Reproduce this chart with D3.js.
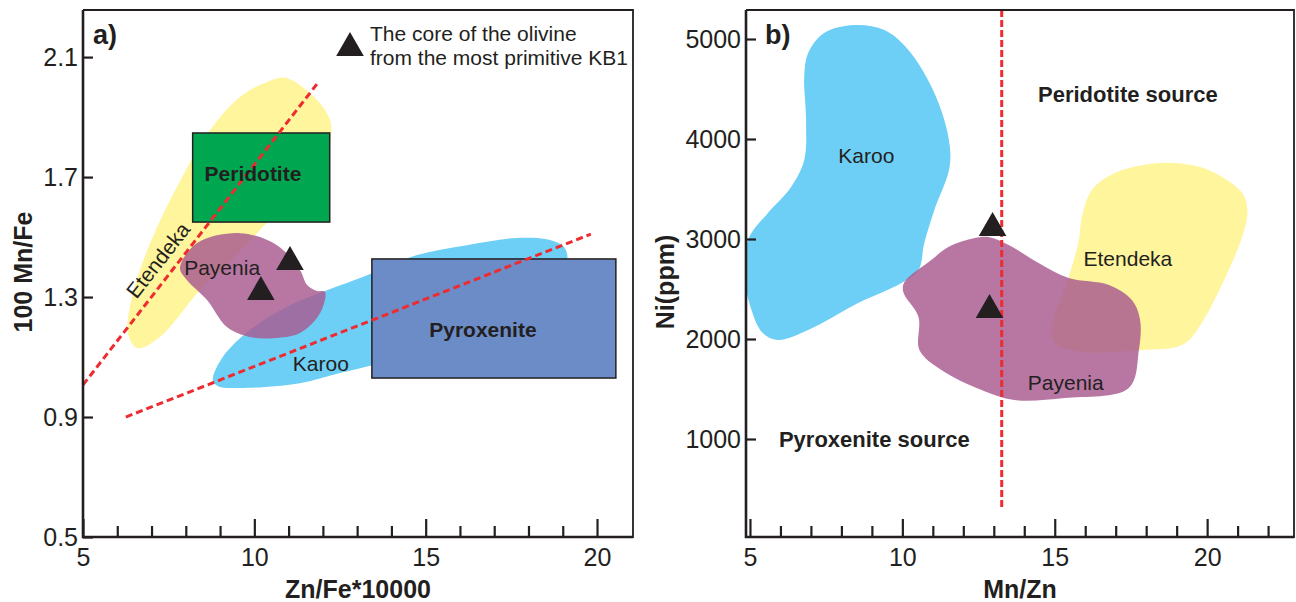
<!DOCTYPE html>
<html><head><meta charset="utf-8">
<script src="https://cdn.jsdelivr.net/npm/d3@7"></script>
<style>
body{margin:0;background:#fff;}
text{font-family:"Liberation Sans", Arial, Helvetica, sans-serif; fill:#231F20;}
</style>
</head><body>
<svg id="c" width="1296" height="602"></svg>
<script>
// ---------- Panel a data (Zn/Fe*10000 vs 100 Mn/Fe) ----------
const aXTicks = [5, 10, 15, 20];
const aXMinor = [6, 7, 8, 9, 11, 12, 13, 14, 16, 17, 18, 19];
const aYTicks = [0.5, 0.9, 1.3, 1.7, 2.1];
const aEtendeka = [[10.95,2.03],[12.21,1.89],[11.86,1.72],[10.22,1.53],[9.29,1.417],[8.41,1.323],[7.25,1.167],[6.58,1.13],[6.31,1.18],[6.46,1.313],[6.96,1.48],[7.74,1.667],[8.71,1.857],[9.58,1.967],[10.37,2.017]];
const aKaroo = [[8.79,1.023],[9.06,1.097],[9.87,1.19],[11.04,1.273],[12.12,1.323],[13.29,1.373],[14.75,1.44],[16.2,1.473],[17.66,1.497],[18.63,1.49],[19.06,1.463],[19.12,1.417],[18.34,1.29],[15.71,1.157],[13.43,1.073],[12.5,1.047],[11.33,1.013],[9.58,0.997],[8.94,1.003]];
const aPayenia = [[7.83,1.397],[8.33,1.48],[9.58,1.513],[10.66,1.473],[11.33,1.39],[11.54,1.34],[11.83,1.32],[12.06,1.317],[11.92,1.247],[11.33,1.18],[10.54,1.163],[9.87,1.167],[9.2,1.2],[8.62,1.29],[8.03,1.357]];
const aPeridotite = {x0: 8.2, x1: 12.2, y0: 1.55, y1: 1.847};
const aPyroxenite = {x0: 13.43, x1: 20.55, y0: 1.03, y1: 1.427};
const aLines = [[[5, 1.007],[11.86, 2.015]], [[6.25, 0.9],[19.82, 1.51]]];
const aTriangles = [[11.04, 1.417],[10.19, 1.317]];

// ---------- Panel b data (Mn/Zn vs Ni ppm) ----------
const bXTicks = [5, 10, 15, 20];
const bXMinor = [6, 7, 8, 9, 11, 12, 13, 14, 16, 17, 18, 19, 21, 22];
const bYTicks = [1000, 2000, 3000, 4000, 5000];
const bKaroo = [[8.42,5140],[7.43,5060],[6.91,4860],[6.78,4620],[6.84,4190],[6.78,3790],[6.35,3520],[5.59,3260],[4.98,3020],[4.8,2690],[5.05,2290],[5.42,2060],[5.92,1990],[6.91,2090],[8.55,2360],[9.97,2560],[10.53,2690],[10.72,2960],[11.05,3290],[11.55,3720],[11.51,4020],[11.05,4460],[10.2,4890],[9.41,5090]];
const bPayenia = [[12.37,3010],[11.51,2920],[10.95,2790],[10.07,2570],[10.03,2470],[10.53,2220],[10.56,1890],[11.28,1690],[12.6,1490],[13.68,1390],[15.33,1410],[17.43,1510],[17.76,1890],[17.8,2190],[17.53,2390],[16.78,2540],[15.46,2610],[14.47,2760],[13.49,2940],[12.83,3020]];
const bEtendeka = [[18.42,3760],[16.97,3660],[16.22,3490],[15.89,3220],[15.79,2990],[15.46,2620],[14.9,2120],[15.0,1960],[15.89,1870],[17.86,1890],[19.18,1940],[19.74,2120],[21.15,3020],[21.32,3290],[21.15,3460],[20.26,3660],[19.5,3740]];
const bLine = [[13.26, 5290],[13.26, 320]];
const bTriangles = [[12.96, 3110],[12.86, 2290]];

// ---------- styles ----------
const C = {yellow:"#FFF59D", green:"#00A650", pyro:"#6C8CC7", karoo:"#6DCFF6", pay:"#A8598F", red:"#EE2B30", ink:"#231F20"};

const svg = d3.select("#c");

function panel(cfg){
  const g = svg.append("g");
  const x = d3.scaleLinear().domain(cfg.xd).range([cfg.L, cfg.R]);
  const y = d3.scaleLinear().domain(cfg.yd).range([cfg.B, cfg.T]);
  const cid = "clip" + cfg.id;
  svg.append("defs").append("clipPath").attr("id", cid)
    .append("rect").attr("x", cfg.L).attr("y", cfg.T).attr("width", cfg.R - cfg.L).attr("height", cfg.B - cfg.T);
  const plot = g.append("g").attr("clip-path", `url(#${cid})`);
  return {g, x, y, plot};
}

const blob = (x, y) => d3.line().x(d => x(d[0])).y(d => y(d[1])).curve(d3.curveCatmullRomClosed.alpha(0.5));
const tri = d3.symbol(d3.symbolTriangle, 330);

function axes(p, cfg, xt, xm, yt, fmt){
  const {g, x, y} = p;
  g.append("g").attr("transform", `translate(0,${cfg.B})`)
    .call(d3.axisBottom(x).tickValues(xt).tickSizeInner(-18).tickSizeOuter(0).tickPadding(11))
    .call(s => { s.select(".domain").remove(); s.selectAll("line").attr("stroke", C.ink).attr("stroke-width", 2.2);
                 s.selectAll("text").attr("font-size", 25).attr("fill", C.ink).attr("font-family", null); });
  g.append("g").attr("transform", `translate(0,${cfg.B})`)
    .call(d3.axisBottom(x).tickValues(xm).tickSizeInner(-11).tickSizeOuter(0).tickFormat(""))
    .call(s => { s.select(".domain").remove(); s.selectAll("line").attr("stroke", C.ink).attr("stroke-width", 2.2); });
  g.append("g").attr("transform", `translate(${cfg.L},0)`)
    .call(d3.axisLeft(y).tickValues(yt).tickSizeInner(-10).tickSizeOuter(0).tickPadding(5).tickFormat(fmt))
    .call(s => { s.select(".domain").remove(); s.selectAll("line").attr("stroke", C.ink).attr("stroke-width", 2.2);
                 s.selectAll("text").attr("font-size", 25).attr("fill", C.ink).attr("font-family", null); });
  // frame
  g.append("path").attr("d", `M${cfg.L},${cfg.B}H${cfg.R}V${cfg.T}H${cfg.L}`).attr("fill", "none").attr("stroke", C.ink).attr("stroke-width", 1.8);
  g.append("path").attr("d", `M${cfg.L},${cfg.T}V${cfg.B}H${cfg.R}`).attr("fill", "none").attr("stroke", C.ink).attr("stroke-width", 2.6);
}

function label(g, px, py, txt, size, bold, rot){
  const t = g.append("text").attr("x", px).attr("y", py).attr("text-anchor", "middle").attr("dominant-baseline", "central")
    .attr("font-size", size).attr("font-weight", bold ? "bold" : "normal").text(txt);
  if (rot) t.attr("transform", `rotate(${rot},${px},${py})`);
  return t;
}

// ===== Panel a =====
const cfgA = {id:"a", L:83, R:633, T:10, B:537, xd:[5, 21.05], yd:[0.5, 2.257]};
const A = panel(cfgA);
{
  const {plot, x, y} = A, ln = blob(x, y);
  plot.append("path").attr("d", ln(aEtendeka)).attr("fill", C.yellow);
  plot.append("path").attr("d", ln(aKaroo)).attr("fill", C.karoo);
  plot.append("rect").attr("x", x(aPeridotite.x0)).attr("y", y(aPeridotite.y1))
    .attr("width", x(aPeridotite.x1) - x(aPeridotite.x0)).attr("height", y(aPeridotite.y0) - y(aPeridotite.y1))
    .attr("fill", C.green).attr("stroke", C.ink).attr("stroke-width", 1.5);
  plot.append("rect").attr("x", x(aPyroxenite.x0)).attr("y", y(aPyroxenite.y1))
    .attr("width", x(aPyroxenite.x1) - x(aPyroxenite.x0)).attr("height", y(aPyroxenite.y0) - y(aPyroxenite.y1))
    .attr("fill", C.pyro).attr("stroke", C.ink).attr("stroke-width", 1.5);
  plot.append("path").attr("d", ln(aPayenia)).attr("fill", C.pay).attr("fill-opacity", 0.82);
  aLines.forEach(l => plot.append("path").attr("d", d3.line().x(d => x(d[0])).y(d => y(d[1]))(l))
    .attr("fill", "none").attr("stroke", C.red).attr("stroke-width", 3).attr("stroke-dasharray", "7,4"));
  plot.selectAll(".ta").data(aTriangles).join("path").attr("d", tri)
    .attr("transform", d => `translate(${x(d[0])},${y(d[1])})`).attr("fill", C.ink);
  label(A.g, x(9.96), y(1.713), "Peridotite", 21, true).attr("fill", "#333");
  label(A.g, x(16.67), y(1.193), "Pyroxenite", 21, true);
  label(A.g, x(11.94), y(1.077), "Karoo", 21, false);
  label(A.g, x(9.06), y(1.397), "Payenia", 21, false);
  label(A.g, x(7.19), y(1.423), "Etendeka", 21, false, -52);
}
axes(A, cfgA, aXTicks, aXMinor, aYTicks, d3.format(".1f"));
A.g.append("text").attr("x", 93).attr("y", 44).attr("font-size", 27).attr("font-weight", "bold").text("a)");
A.g.append("path").attr("d", tri).attr("transform", "translate(350,48)").attr("fill", C.ink);
A.g.append("text").attr("x", 370).attr("y", 41).attr("font-size", 21).text("The core of the olivine");
A.g.append("text").attr("x", 370).attr("y", 65).attr("font-size", 21).text("from the most primitive KB1");
A.g.append("text").attr("x", (cfgA.L + cfgA.R) / 2).attr("y", 598).attr("text-anchor", "middle")
  .attr("font-size", 25).attr("font-weight", "bold").text("Zn/Fe*10000");
A.g.append("text").attr("transform", "translate(32,272) rotate(-90)").attr("text-anchor", "middle")
  .attr("font-size", 25).attr("font-weight", "bold").text("100 Mn/Fe");

// ===== Panel b =====
const cfgB = {id:"b", L:746, R:1294, T:10, B:537, xd:[4.87, 22.85], yd:[20, 5290]};
const B = panel(cfgB);
{
  const {plot, x, y} = B, ln = blob(x, y);
  plot.append("path").attr("d", ln(bKaroo)).attr("fill", C.karoo);
  plot.append("path").attr("d", ln(bEtendeka)).attr("fill", C.yellow);
  plot.append("path").attr("d", ln(bPayenia)).attr("fill", C.pay).attr("fill-opacity", 0.82);
  plot.append("path").attr("d", d3.line().x(d => x(d[0])).y(d => y(d[1]))(bLine))
    .attr("fill", "none").attr("stroke", C.red).attr("stroke-width", 3).attr("stroke-dasharray", "7,3");
  plot.selectAll(".tb").data(bTriangles).join("path").attr("d", tri)
    .attr("transform", d => `translate(${x(d[0])},${y(d[1])})`).attr("fill", C.ink);
  label(B.g, x(8.82), y(3840), "Karoo", 21, false);
  label(B.g, x(17.4), y(2810), "Etendeka", 21, false);
  label(B.g, x(15.36), y(1570), "Payenia", 21, false);
  label(B.g, x(17.4), y(4450), "Peridotite source", 22, true);
  label(B.g, x(9.08), y(1000), "Pyroxenite source", 22, true);
}
axes(B, cfgB, bXTicks, bXMinor, bYTicks, d3.format("d"));
B.g.append("text").attr("x", 765).attr("y", 44).attr("font-size", 27).attr("font-weight", "bold").text("b)");
B.g.append("text").attr("x", (cfgB.L + cfgB.R) / 2).attr("y", 598).attr("text-anchor", "middle")
  .attr("font-size", 25).attr("font-weight", "bold").text("Mn/Zn");
B.g.append("text").attr("transform", "translate(674,282) rotate(-90)").attr("text-anchor", "middle")
  .attr("font-size", 25).attr("font-weight", "bold").text("Ni(ppm)");
</script>
</body></html>
